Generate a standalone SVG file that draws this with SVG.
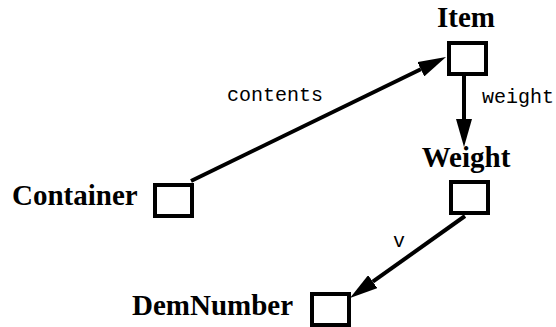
<svg xmlns="http://www.w3.org/2000/svg" width="556" height="327" viewBox="0 0 556 327">
  <defs>
    <style>
      .box { fill: #ffffff; stroke: #000000; stroke-width: 4; }
      .name { font-family: "Liberation Serif", "Times New Roman", serif; font-weight: bold; font-size: 29px; fill: #000000; }
      .lbl { font-family: "Liberation Mono", "Courier New", monospace; font-size: 20px; fill: #000000; }
      .edge { stroke: #000000; stroke-width: 4; fill: none; marker-end: url(#arrow); }
    </style>
    <marker id="arrow" markerUnits="userSpaceOnUse" markerWidth="28" markerHeight="16" refX="0" refY="8" orient="auto" viewBox="0 0 28 16">
      <path d="M0,0 L28,8 L0,16 z" fill="#000000"/>
    </marker>
  </defs>
  <rect width="556" height="327" fill="#ffffff"/>
  <g id="connectors">
    <line class="edge" x1="191" y1="181" x2="420.8" y2="69.2"/>
    <line class="edge" x1="464" y1="76" x2="464" y2="119"/>
    <line class="edge" x1="465" y1="216" x2="372.8" y2="281.7"/>
    <text class="lbl" x="227" y="101">contents</text>
    <text class="lbl" x="482" y="103">weight</text>
    <text class="lbl" x="393" y="247">v</text>
  </g>
  <g id="item">
    <text class="name" x="466" y="27" text-anchor="middle">Item</text>
    <rect class="box" x="449" y="43" width="37" height="31"/>
  </g>
  <g id="weight">
    <text class="name" x="466" y="167" text-anchor="middle">Weight</text>
    <rect class="box" x="451" y="182" width="37" height="31"/>
  </g>
  <g id="container">
    <text class="name" x="12" y="205">Container</text>
    <rect class="box" x="155" y="185" width="37" height="31"/>
  </g>
  <g id="demnumber">
    <text class="name" x="132" y="315">DemNumber</text>
    <rect class="box" x="312" y="294" width="37" height="31"/>
  </g>
</svg>
